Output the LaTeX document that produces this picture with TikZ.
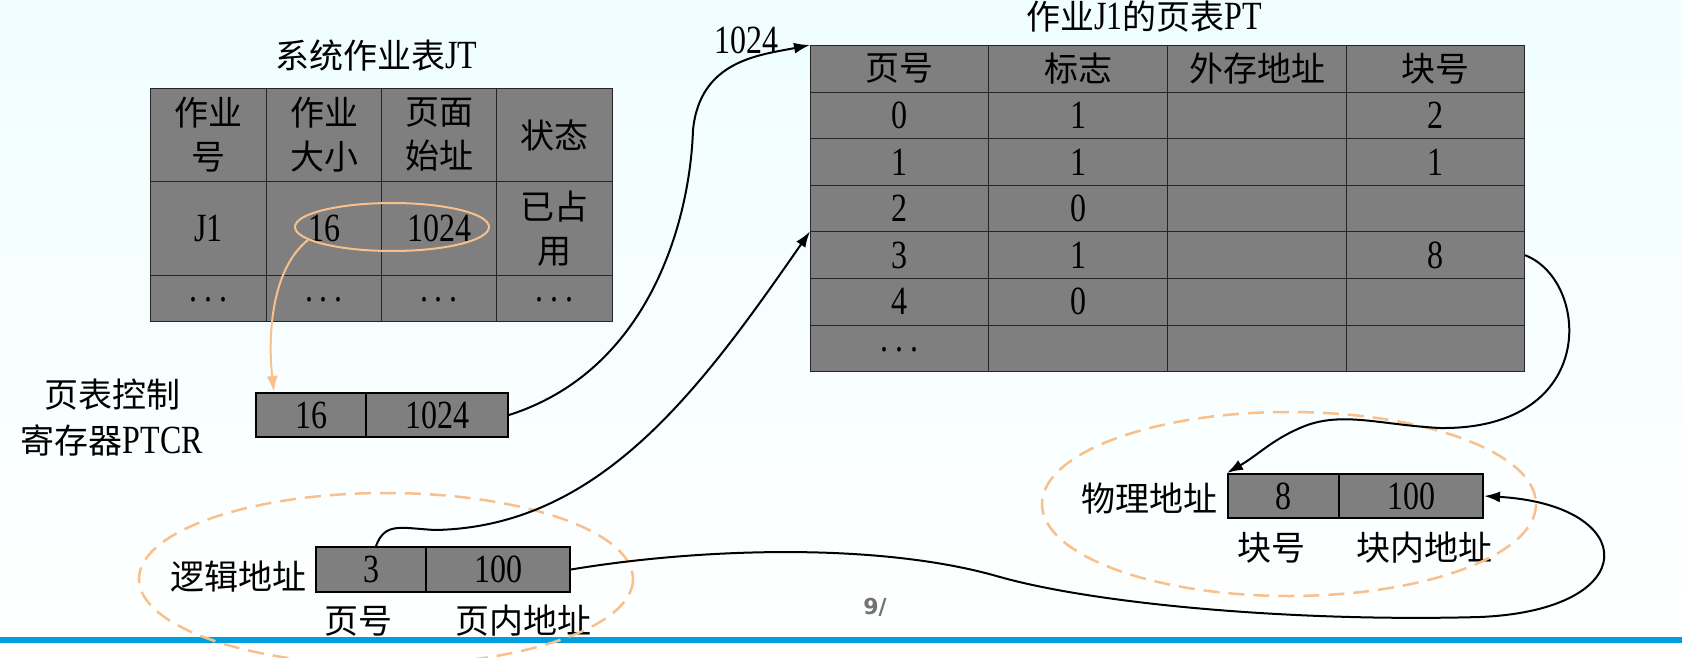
\documentclass[tikz,border=0pt]{standalone}
\usepackage{fontspec}
\setmainfont{Liberation Serif}[FakeStretch=0.8]
\newfontfamily\cjk{Noto Sans CJK SC}[Scale=0.85]
\newfontfamily\pgnum{DejaVu Sans}
\usetikzlibrary{arrows.meta}
\definecolor{cellgray}{HTML}{7F7F7F}
\definecolor{orng}{HTML}{F9C08C}
\definecolor{lineblue}{HTML}{00A0E0}
\begin{document}
\begin{tikzpicture}[x=1pt,y=-1pt,
  cell/.style={draw=black!85,fill=cellgray,line width=1pt,inner sep=0pt,anchor=north west,align=center,font=\fontsize{40}{44}\selectfont},
  reg/.style={cell,line width=2pt,draw=black},
  lbl/.style={font=\fontsize{40}{46}\selectfont,inner sep=0pt,align=center},
  conn/.style={line width=2pt,-{Latex[length=16pt,width=11pt]}},
  oconn/.style={line width=2pt,orng,-{Latex[length=16pt,width=11pt]}},
  dring/.style={orng,line width=2.5pt,dash pattern=on 16pt off 9pt}]
\useasboundingbox (0,0) rectangle (1682,658);
\shade[top color=blue!8!cyan!6,bottom color=white] (0,0) rectangle (1682,658);
\fill[lineblue] (0,637) rectangle (1682,643);
% JT
\node[lbl] (jtt) at (376,55) {{\cjk 系统作业表}JT};
\foreach \c/\x/\w/\t in {a/150/116/{{\cjk 作业}\\{\cjk 号}},b/266/115/{{\cjk 作业}\\{\cjk 大小}},c/381/115/{{\cjk 页面}\\{\cjk 始址}},d/496/116/{\cjk 状态}}
  \node[cell,minimum width=\w pt,minimum height=93pt] (jh\c) at (\x,88) {\t};
\foreach \c/\x/\w/\t in {a/150/116/J1,b/266/115/16,c/381/115/1024,d/496/116/{{\cjk 已占}\\{\cjk 用}}}
  \node[cell,minimum width=\w pt,minimum height=94pt] (jr\c) at (\x,181) {\t};
\foreach \c/\x/\w in {a/150/116,b/266/115,c/381/115,d/496/116}
  \node[cell,minimum width=\w pt,minimum height=46pt] (jd\c) at (\x,275) {\raisebox{-6pt}{.\,.\,.}};
\draw[orng,line width=2pt] (392,227) ellipse (97 and 24);
\coordinate (ostart) at (308,240);
\coordinate (oend) at (274,392);
% PTCR
\node[lbl,anchor=center] (ptcrl) at (112,418) {{\cjk 页表控制}\\{\cjk 寄存器}PTCR};
\node[reg,minimum width=110pt,minimum height=44pt] (pa) at (255,392) {16};
\node[reg,minimum width=142pt,minimum height=44pt] (pb) at (365,392) {1024};
% PT
\node[lbl] (ptt) at (1144,17) {{\cjk 作业}J1{\cjk 的页表}PT};
\foreach \c/\x/\w/\t in {a/810/178/{\cjk 页号},b/988/179/{\cjk 标志},c/1167/179/{\cjk 外存地址},d/1346/178/{\cjk 块号}}
  \node[cell,minimum width=\w pt,minimum height=46.6pt] (ph\c) at (\x,45) {\t};
\foreach \r/\y/\p/\f/\b in {0/91.6/0/1/2,1/138.2/1/1/1,2/184.8/2/0/,3/231.4/3/1/8,4/278/4/0/,5/324.6/{\raisebox{-6pt}{.\,.\,.}}/{}/{}}{
  \node[cell,minimum width=178pt,minimum height=46.6pt] (p\r a) at (810,\y) {\p};
  \node[cell,minimum width=179pt,minimum height=46.6pt] (p\r b) at (988,\y) {\f};
  \node[cell,minimum width=179pt,minimum height=46.6pt] (p\r c) at (1167,\y) {};
  \node[cell,minimum width=178pt,minimum height=46.6pt] (p\r d) at (1346,\y) {\b};
}
\node[lbl] (k1024) at (746,40) {1024};
% logical
\node[reg,minimum width=110pt,minimum height=45pt] (la) at (315,546) {3};
\node[reg,minimum width=144pt,minimum height=45pt] (lb) at (425,546) {100};
\node[lbl,anchor=east] (ll) at (307,577) {\cjk 逻辑地址};
\node[lbl] (l1) at (358,621) {\cjk 页号};
\node[lbl] (l2) at (523,621) {\cjk 页内地址};
\draw[dring] (386,579) ellipse (247 and 86);
% physical
\node[reg,minimum width=111pt,minimum height=44pt] (fa) at (1227,473) {8};
\node[reg,minimum width=144pt,minimum height=44pt] (fb) at (1338,473) {100};
\node[lbl,anchor=east] (fl) at (1218,499) {\cjk 物理地址};
\node[lbl] (f1) at (1271,548) {\cjk 块号};
\node[lbl] (f2) at (1424,548) {\cjk 块内地址};
\draw[dring] (1289,504) ellipse (247 and 92);
\node[font=\pgnum\bfseries\fontsize{22}{22}\selectfont,text=black!55] (pg) at (875,607) {9/};
% connectors
\draw[oconn] (ostart) .. controls (270,270) and (268,340) .. (oend);
\draw[conn] (pb.east) .. controls (650,370) and (690,220) .. (693,130) .. controls (700,60) and (760,55) .. (pha.north west);
\draw[conn] ([xshift=5pt]la.north) .. controls (385,522) and (400,528) .. (435,530) .. controls (600,527) and (700,390) .. (p3a.north west);
\draw[conn] (p3d.east) .. controls (1590,280) and (1600,430) .. (1440,428) .. controls (1380,425) and (1340,410) .. (1300,428) .. controls (1272,440) and (1258,455) .. (fa.north west);
\draw[conn] (lb.east) .. controls (700,548) and (880,542) .. (1000,577) .. controls (1100,605) and (1300,622) .. (1480,617) .. controls (1645,610) and (1640,505) .. (fb.east);
\end{tikzpicture}
\end{document}
